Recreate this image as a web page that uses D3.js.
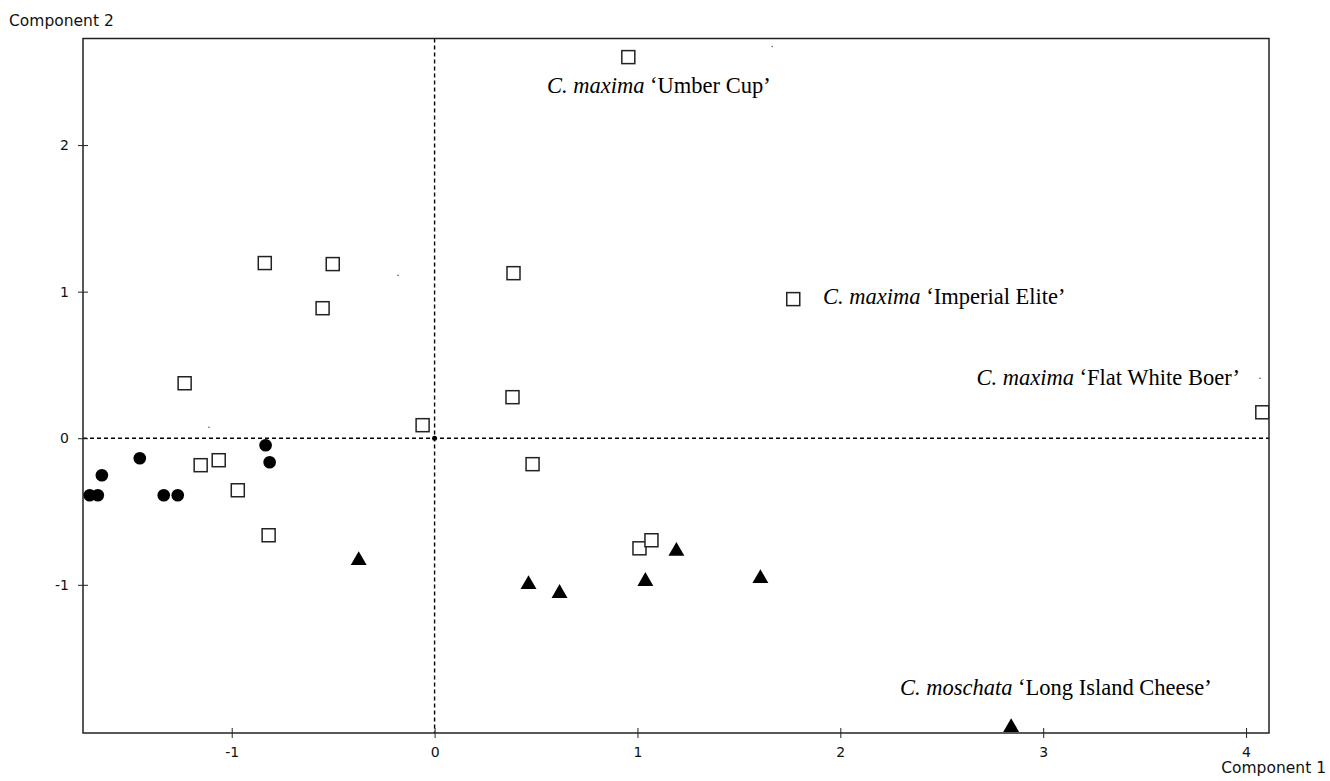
<!DOCTYPE html>
<html>
<head>
<meta charset="utf-8">
<script src="https://cdn.jsdelivr.net/npm/d3@7"></script>
<style>
  body { margin: 0; background: #fff; }
</style>
</head>
<body>
<div id="block"></div>
<script>
// component scores
var squareX = [0.955, -0.837, -0.502, -0.552, 0.389, 1.768, -1.232, -0.059, 0.384, 4.08, -1.153, -1.064, -0.970, -0.818, 0.483, 1.010, 1.069];
var squareY = [2.60, 1.195, 1.188, 0.887, 1.126, 0.949, 0.375, 0.089, 0.28, 0.177, -0.184, -0.150, -0.355, -0.662, -0.177, -0.751, -0.696];

var circleX = [-1.70, -1.66, -1.64, -1.453, -1.335, -1.266, -0.833, -0.813];
var circleY = [-0.389, -0.389, -0.253, -0.137, -0.389, -0.389, -0.048, -0.164];

var triangleX = [-0.374, 0.463, 0.616, 1.039, 1.192, 1.606, 2.842];
var triangleY = [-0.833, -0.997, -1.058, -0.976, -0.771, -0.956, -1.973];

// stray specks in the original
var speckX = [1.664, -0.18, -1.112, 4.069];
var speckY = [2.672, 1.111, 0.075, 0.409];

var xTicks = [-1, 0, 1, 2, 3, 4];
var yTicks = [-1, 0, 1, 2];

var labelGenus = ["C. maxima", "C. maxima", "C. maxima", "C. moschata"];
var labelName = ["\u2018Umber Cup\u2019", "\u2018Imperial Elite\u2019", "\u2018Flat White Boer\u2019", "\u2018Long Island Cheese\u2019"];
var labelX = [0.554, 1.915, 3.97, 2.294];
var labelY = [2.352, 0.913, 0.361, -1.752];
var labelAnchor = ["start", "start", "end", "start"];

var w = 1330,
  h = 781;

var svg = d3.select("#block")
          .append("svg")
          .attr("width", w)
          .attr("height", h);

var frame = {left: 83, right: 1269, top: 38.5, bottom: 733};

var x = d3.scaleLinear()
        .domain([-1.733, 4.113])
        .range([frame.left, frame.right]);

var y = d3.scaleLinear()
        .domain([-2.011, 2.727])
        .range([frame.bottom, frame.top]);

svg.append("clipPath")
   .attr("id", "clip")
   .append("rect")
   .attr("x", frame.left)
   .attr("y", frame.top)
   .attr("width", frame.right - frame.left)
   .attr("height", frame.bottom - frame.top);

// dotted zero lines
svg.append("line")
   .attr("x1", frame.left).attr("x2", frame.right)
   .attr("y1", y(0)).attr("y2", y(0))
   .attr("stroke", "#000")
   .attr("stroke-width", 1.4)
   .attr("stroke-dasharray", "4,3");

svg.append("line")
   .attr("x1", x(0)).attr("x2", x(0))
   .attr("y1", frame.top).attr("y2", frame.bottom)
   .attr("stroke", "#000")
   .attr("stroke-width", 1.4)
   .attr("stroke-dasharray", "4,3");

svg.append("circle")
   .attr("cx", x(0)).attr("cy", y(0))
   .attr("r", 2.5)
   .attr("fill", "#000");

var fmt = function(d) { return String(d); };

// axes: ticks cross the frame
var xAxis = d3.axisBottom(x)
            .tickValues(xTicks)
            .tickFormat(fmt)
            .tickSizeInner(5)
            .tickSizeOuter(0)
            .tickPadding(9);

var yAxis = d3.axisLeft(y)
            .tickValues(yTicks)
            .tickFormat(fmt)
            .tickSizeInner(5)
            .tickSizeOuter(0)
            .tickPadding(9);

var gx = svg.append("g")
            .attr("transform", "translate(0," + frame.bottom + ")")
            .call(xAxis);
gx.select(".domain").remove();
gx.selectAll(".tick line").attr("y1", -5).attr("stroke", "#222");
gx.selectAll("text")
  .attr("font-family", "DejaVu Sans")
  .attr("font-size", 14)
  .attr("fill", "#111");

var gy = svg.append("g")
            .attr("transform", "translate(" + frame.left + ",0)")
            .call(yAxis);
gy.select(".domain").remove();
gy.selectAll(".tick line").attr("x1", 5).attr("x2", -5).attr("stroke", "#222");
gy.selectAll("text")
  .attr("font-family", "DejaVu Sans")
  .attr("font-size", 14)
  .attr("fill", "#111");

// frame
svg.append("rect")
   .attr("x", frame.left).attr("y", frame.top)
   .attr("width", frame.right - frame.left)
   .attr("height", frame.bottom - frame.top)
   .attr("fill", "none")
   .attr("stroke", "#222")
   .attr("stroke-width", 1.5);

var plot = svg.append("g").attr("clip-path", "url(#clip)");

var sq = 13;
plot.selectAll("rect.sq")
    .data(d3.range(squareX.length))
    .enter()
    .append("rect")
    .attr("class", "sq")
    .attr("x", function(i) { return x(squareX[i]) - sq / 2; })
    .attr("y", function(i) { return y(squareY[i]) - sq / 2; })
    .attr("width", sq)
    .attr("height", sq)
    .attr("fill", "#fff")
    .attr("stroke", "#222")
    .attr("stroke-width", 1.5);

plot.selectAll("circle.dot")
    .data(d3.range(circleX.length))
    .enter()
    .append("circle")
    .attr("class", "dot")
    .attr("cx", function(i) { return x(circleX[i]); })
    .attr("cy", function(i) { return y(circleY[i]); })
    .attr("r", 6.3)
    .attr("fill", "#000");

var tri = d3.symbol().type(d3.symbolTriangle).size(110);
plot.selectAll("path.tri")
    .data(d3.range(triangleX.length))
    .enter()
    .append("path")
    .attr("class", "tri")
    .attr("d", tri)
    .attr("transform", function(i) {
      return "translate(" + x(triangleX[i]) + "," + y(triangleY[i]) + ")";
    })
    .attr("fill", "#000");

plot.selectAll("circle.speck")
    .data(d3.range(speckX.length))
    .enter()
    .append("circle")
    .attr("class", "speck")
    .attr("cx", function(i) { return x(speckX[i]); })
    .attr("cy", function(i) { return y(speckY[i]); })
    .attr("r", 0.8)
    .attr("fill", "#555");

// cultivar labels
var lab = svg.selectAll("text.lab")
             .data(d3.range(labelName.length))
             .enter()
             .append("text")
             .attr("class", "lab")
             .attr("x", function(i) { return x(labelX[i]); })
             .attr("y", function(i) { return y(labelY[i]); })
             .attr("text-anchor", function(i) { return labelAnchor[i]; })
             .attr("font-family", "Liberation Serif")
             .attr("font-size", 22.5)
             .attr("fill", "#000");
lab.append("tspan")
   .attr("font-style", "italic")
   .text(function(i) { return labelGenus[i]; });
lab.append("tspan")
   .text(function(i) { return " " + labelName[i]; });

// axis titles
svg.append("text")
   .attr("x", 9).attr("y", 26)
   .attr("font-family", "DejaVu Sans")
   .attr("font-size", 15.5)
   .attr("fill", "#111")
   .text("Component 2");

svg.append("text")
   .attr("x", 1326).attr("y", 773)
   .attr("text-anchor", "end")
   .attr("font-family", "DejaVu Sans")
   .attr("font-size", 15.5)
   .attr("fill", "#111")
   .text("Component 1");
</script>
</body>
</html>
